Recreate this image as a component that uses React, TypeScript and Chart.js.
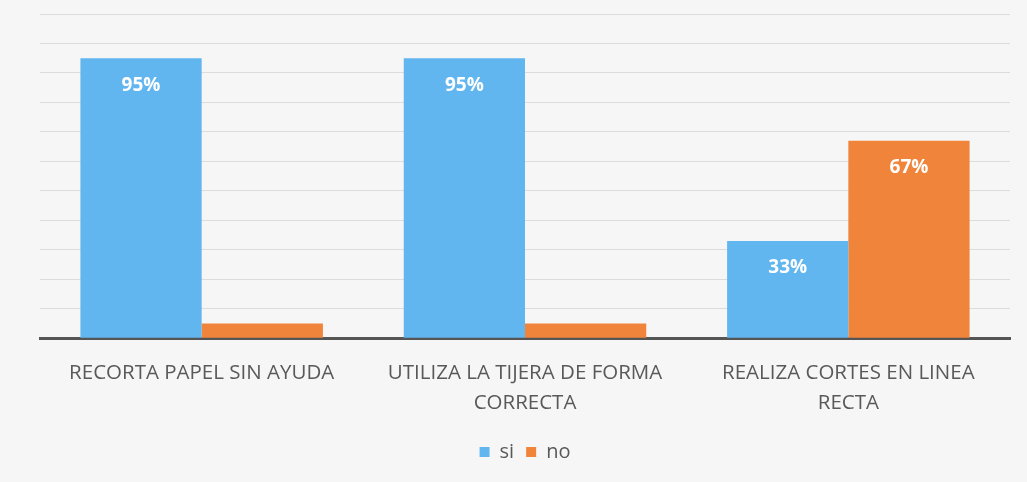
import React, { useEffect, useRef } from "react";
import { Chart, registerables } from "chart.js";

Chart.register(...registerables);

const categories: string[][] = [
  ["RECORTA PAPEL SIN AYUDA"],
  ["UTILIZA LA TIJERA DE FORMA", "CORRECTA"],
  ["REALIZA CORTES EN LINEA", "RECTA"],
];
const siValues = [95, 95, 33];
const noValues = [5, 5, 67];
const seriesNames = ["si", "no"];

const FONT = "'Open Sans', 'Noto Sans', sans-serif";

const valueLabels = {
  id: "valueLabels",
  afterDatasetsDraw(chart: any) {
    const ctx = chart.ctx;
    ctx.save();
    ctx.fillStyle = "#ffffff";
    ctx.font = `bold 19px ${FONT}`;
    ctx.textAlign = "center";
    ctx.textBaseline = "middle";
    chart.data.datasets.forEach((ds: any, i: number) => {
      const meta = chart.getDatasetMeta(i);
      meta.data.forEach((bar: any, j: number) => {
        const v = ds.data[j];
        if (v < 10) return;
        ctx.fillText(v + "%", bar.x, bar.y + 27);
      });
    });
    ctx.restore();
  },
};

export default function App() {
  const ref = useRef<HTMLCanvasElement>(null);
  useEffect(() => {
    document.body.style.margin = "0";
    const chart = new Chart(ref.current!, {
      type: "bar",
      data: {
        labels: categories as any,
        datasets: [
          { label: seriesNames[0], data: siValues, backgroundColor: "#62b6ef" },
          { label: seriesNames[1], data: noValues, backgroundColor: "#f1843b" },
        ],
      },
      options: {
        animation: false,
        responsive: false,
        maintainAspectRatio: false,
        layout: { padding: { left: 40, right: 17, top: 14, bottom: 10 } },
        datasets: { bar: { categoryPercentage: 0.75, barPercentage: 1 } },
        plugins: {
          legend: {
            position: "bottom",
            labels: {
              boxWidth: 10,
              boxHeight: 10,
              color: "#595959",
              font: { size: 20, family: FONT },
              padding: 12,
            },
          },
          tooltip: { enabled: false },
        },
        scales: {
          x: {
            grid: { display: false },
            border: { display: true, color: "#555555", width: 3 },
            ticks: {
              color: "#595959",
              font: { size: 20.5, family: FONT, lineHeight: 1.46 },
              padding: 12,
              maxRotation: 0,
            },
          },
          y: {
            min: 0,
            max: 110,
            ticks: { display: false, stepSize: 10 },
            grid: { color: "#dcdcdc", drawTicks: false },
            border: { display: false },
          },
        },
      },
      plugins: [valueLabels],
    });
    return () => chart.destroy();
  }, []);
  return (
    <div style={{ width: 1027, height: 482, background: "#f6f6f6" }}>
      <canvas ref={ref} width={1027} height={482} style={{ display: "block" }} />
    </div>
  );
}
